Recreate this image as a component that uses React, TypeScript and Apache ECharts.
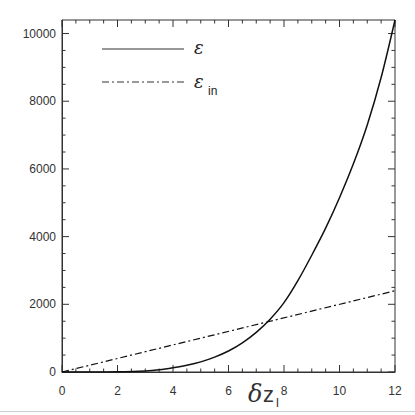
import React, { useEffect, useRef } from "react";
import * as echarts from "echarts";

// δz_l values (x) and epsilon curve values
const xValues = [0, 1, 2, 3, 3.5, 4, 4.5, 5, 5.5, 6, 6.5, 7, 7.5, 8, 8.5, 9, 9.5, 10, 10.5, 11, 11.5, 12];
const epsilonValues = [0, 0, 5, 30, 65, 125, 200, 300, 440, 620, 860, 1170, 1560, 2050, 2700, 3450, 4250, 5150, 6150, 7300, 8700, 10400];
// epsilon_in is a straight line
const epsilonInX = [0, 12];
const epsilonInValues = [0, 2400];

// axis ticks (major with labels, minor without)
const xMajor = 2;
const xMinorTicks = [0, 0.5, 1, 1.5, 2, 2.5, 3, 3.5, 4, 4.5, 5, 5.5, 6, 6.5, 7, 7.5, 8, 8.5, 9, 9.5, 10, 10.5, 11, 11.5, 12];
const yMajor = 2000;
const yMinorTicks = [0, 500, 1000, 1500, 2000, 2500, 3000, 3500, 4000, 4500, 5000, 5500, 6000, 6500, 7000, 7500, 8000, 8500, 9000, 9500, 10000];
const xRange = [0, 12];
const yRange = [0, 10400];

const FONT = "'Liberation Sans', Arial, sans-serif";
const AXIS_COLOR = "#333";

export default function App() {
  const ref = useRef<HTMLDivElement>(null);
  useEffect(() => {
    if (!ref.current) return;
    const chart = echarts.init(ref.current, null, { renderer: "svg" });
    const fmt = (v: number) => String(v);
    const tickData = [
      ...xMinorTicks.map((v) => [v, 0]),
      ...yMinorTicks.map((v) => [v, 1]),
    ];
    const renderTick = (_params: any, api: any) => {
      const v = api.value(0);
      const isY = api.value(1) === 1;
      const style = { stroke: AXIS_COLOR, lineWidth: 1 };
      if (!isY) {
        const len = v % xMajor === 0 ? 7 : 3.5;
        const b = api.coord([v, yRange[0]]);
        const t = api.coord([v, yRange[1]]);
        return {
          type: "group",
          children: [
            { type: "line", shape: { x1: b[0], y1: b[1], x2: b[0], y2: b[1] - len }, style },
            { type: "line", shape: { x1: t[0], y1: t[1], x2: t[0], y2: t[1] + len }, style },
          ],
        };
      }
      const len = v % yMajor === 0 ? 7 : 3.5;
      const l = api.coord([xRange[0], v]);
      const r = api.coord([xRange[1], v]);
      return {
        type: "group",
        children: [
          { type: "line", shape: { x1: l[0], y1: l[1], x2: l[0] + len, y2: l[1] }, style },
          { type: "line", shape: { x1: r[0], y1: r[1], x2: r[0] - len, y2: r[1] }, style },
        ],
      };
    };
    chart.setOption({
      animation: false,
      backgroundColor: "#fff",
      grid: { left: 62, right: 20, top: 20, bottom: 43, show: true, borderColor: AXIS_COLOR, borderWidth: 1, backgroundColor: "transparent" },
      xAxis: {
        type: "value",
        min: xRange[0],
        max: xRange[1],
        interval: xMajor,
        axisLine: { show: true, lineStyle: { color: AXIS_COLOR, width: 1 } },
        axisTick: { show: false },
        axisLabel: { color: "#333", fontFamily: FONT, fontSize: 12, margin: 13, formatter: fmt },
        splitLine: { show: false },
      },
      yAxis: {
        type: "value",
        min: yRange[0],
        max: yRange[1],
        interval: yMajor,
        axisLine: { show: true, lineStyle: { color: AXIS_COLOR, width: 1 } },
        axisTick: { show: false },
        axisLabel: { color: "#333", fontFamily: FONT, fontSize: 12, margin: 6, showMaxLabel: false, formatter: fmt },
        splitLine: { show: false },
      },
      series: [
        {
          type: "custom",
          silent: true,
          renderItem: renderTick,
          data: tickData,
          z: 1,
        },
        {
          type: "line",
          name: "ε",
          data: xValues.map((x, i) => [x, epsilonValues[i]]),
          smooth: 0.3,
          showSymbol: false,
          lineStyle: { color: "#111", width: 1.5 },
          z: 3,
        },
        {
          type: "line",
          name: "ε in",
          data: epsilonInX.map((x, i) => [x, epsilonInValues[i]]),
          showSymbol: false,
          lineStyle: { color: "#111", width: 1.2, type: [7, 3, 2, 3] },
          z: 3,
        },
      ],
      graphic: [
        { type: "line", shape: { x1: 102, y1: 49, x2: 184, y2: 49 }, style: { stroke: "#333", lineWidth: 1.2 } },
        { type: "line", shape: { x1: 102, y1: 82, x2: 184, y2: 82 }, style: { stroke: "#333", lineWidth: 1.2, lineDash: [7, 3, 2, 3] } },
        { type: "text", x: 194, y: 47, style: { text: "ε", font: "italic 18px 'DejaVu Serif', serif", fill: "#222", verticalAlign: "middle" } },
        { type: "text", x: 194, y: 81, style: { text: "ε", font: "italic 18px 'DejaVu Serif', serif", fill: "#222", verticalAlign: "middle" } },
        { type: "text", x: 208, y: 91, style: { text: "in", font: "12px 'Liberation Sans', sans-serif", fill: "#222", verticalAlign: "middle" } },
        { type: "text", x: 248, y: 394, style: { text: "δ", font: "italic 24px 'DejaVu Serif', serif", fill: "#333", verticalAlign: "middle" } },
        { type: "text", x: 263, y: 394, style: { text: "z", font: "22px 'Liberation Sans', sans-serif", fill: "#333", verticalAlign: "middle" } },
        { type: "text", x: 276, y: 402, style: { text: "l", font: "13px 'Liberation Sans', sans-serif", fill: "#333", verticalAlign: "middle" } },
        { type: "rect", shape: { x: 0, y: 411, width: 415, height: 1 }, style: { fill: "#d0d0d0" } },
      ],
    });
    return () => chart.dispose();
  }, []);
  return <div ref={ref} style={{ width: 415, height: 415, position: "absolute", left: 0, top: 0 }} />;
}
